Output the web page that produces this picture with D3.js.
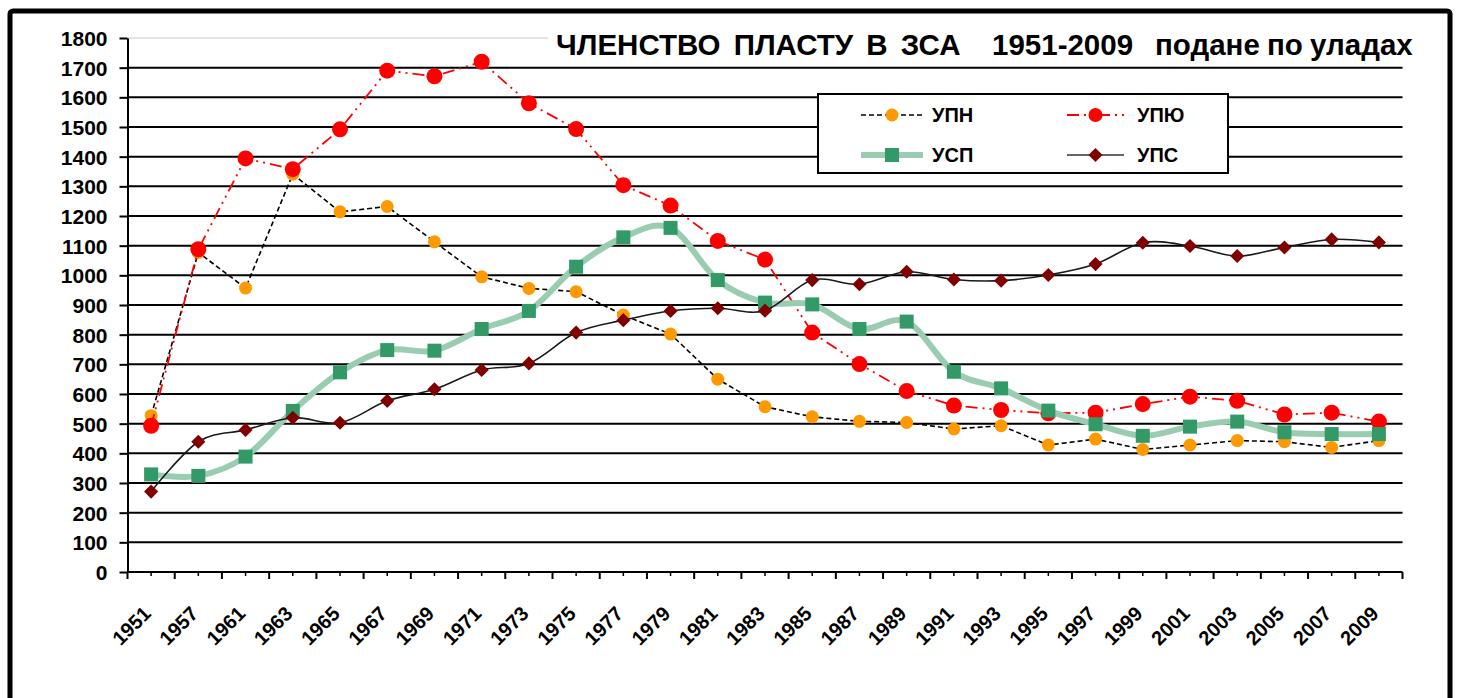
<!DOCTYPE html>
<html>
<head>
<meta charset="utf-8">
<script src="https://d3js.org/d3.v7.min.js"></script>
<style>
  body { margin: 0; background: #fff; font-family: "Liberation Sans", Arial, sans-serif; }
  svg text { font-weight: bold; fill: #000; }
</style>
</head>
<body>
<div id="chart"></div>
<script>
// chart data
const years = ["1951","1957","1961","1963","1965","1967","1969","1971","1973","1975","1977","1979","1981","1983",
  "1985","1987","1989","1991","1993","1995","1997","1999","2001","2003","2005","2007","2009"];
const upn  = [527,1077,957,1341,1214,1232,1113,995,956,945,866,802,650,557,523,508,504,482,493,428,448,413,428,443,439,420,443];
const upyu = [493,1088,1394,1358,1492,1690,1671,1720,1580,1493,1304,1235,1116,1053,807,701,610,561,546,535,537,566,591,577,531,537,507];
const usp  = [329,324,389,543,673,748,746,819,880,1029,1128,1160,984,908,902,819,844,675,619,544,498,459,490,507,471,465,465];
const ups  = [271,439,479,520,503,577,616,681,703,807,849,880,889,881,984,970,1012,986,982,1001,1038,1110,1099,1065,1094,1121,1111];
const yTicks = d3.range(0, 1801, 100);
const titleParts = ["ЧЛЕНСТВО ПЛАСТУ В ЗСА", "1951-2009", "подане по уладах"];

const W = 1458, H = 698;
const pLeft = 127.5, pRight = 1402.5, pTop = 38, pBottom = 572;

const svg = d3.select("#chart").append("svg")
  .attr("width", W).attr("height", H);

// outer frame
svg.append("rect")
  .attr("x", 10).attr("y", 11).attr("width", 1440).attr("height", 720)
  .attr("rx", 3)
  .attr("fill", "#fff").attr("stroke", "#000").attr("stroke-width", 5);

const x = d3.scaleBand().domain(years).range([pLeft, pRight]).padding(0);
const cx = d => x(d) + x.bandwidth() / 2;
const y = d3.scaleLinear().domain([0, 1800]).range([pBottom, pTop]);

// gridlines
svg.append("g").selectAll("line")
  .data(yTicks.filter(v => v > 0))
  .join("line")
  .attr("x1", pLeft).attr("x2", pRight)
  .attr("y1", d => y(d)).attr("y2", d => y(d))
  .attr("stroke", d => d === 1800 ? "#c8c8c8" : "#000")
  .attr("stroke-width", d => d === 1800 ? 1 : 2);

// y axis
const yAxis = svg.append("g")
  .attr("transform", `translate(${pLeft},0)`)
  .call(d3.axisLeft(y).tickValues(yTicks).tickFormat(d3.format("d"))
    .tickSize(8).tickSizeOuter(0).tickPadding(12));
yAxis.select(".domain").attr("stroke-width", 2);
yAxis.selectAll(".tick line").attr("stroke-width", 2);
yAxis.selectAll("text").attr("font-size", 21).attr("font-family", "Liberation Sans, Arial, sans-serif")
  .attr("dy", "0.36em");

// x axis: short ticks at category centres, longer at boundaries
const xAxis = svg.append("g").attr("transform", `translate(0,${pBottom})`);
xAxis.append("line").attr("x1", pLeft).attr("x2", pRight).attr("stroke", "#000").attr("stroke-width", 2);
xAxis.selectAll(".bt")
  .data(years.concat(["end"]))
  .join("line")
  .attr("x1", d => d === "end" ? pRight : x(d)).attr("x2", d => d === "end" ? pRight : x(d))
  .attr("y1", 0).attr("y2", 7).attr("stroke", "#000").attr("stroke-width", 2);
xAxis.selectAll(".ct")
  .data(years)
  .join("line")
  .attr("x1", cx).attr("x2", cx)
  .attr("y1", 0).attr("y2", 4).attr("stroke", "#000").attr("stroke-width", 1.5);
xAxis.selectAll("text")
  .data(years)
  .join("text")
  .attr("transform", d => `translate(${cx(d) + 1},${43}) rotate(-45)`)
  .attr("text-anchor", "end")
  .attr("font-size", 20)
  .text(d => d);

// title with white backing
const tg = svg.append("g");
tg.append("rect").attr("x", 548).attr("y", 24).attr("width", 864).attr("height", 40).attr("fill", "#fff");
const titleX = [556, 992, 1155];
const titleWS = [5, 0, -1];
tg.selectAll("text").data(titleParts).join("text")
  .attr("x", (d, i) => titleX[i]).attr("y", 55)
  .attr("font-size", 29.5)
  .attr("word-spacing", (d, i) => titleWS[i])
  .text(d => d);

const smooth = d3.curveCardinal.tension(0);

function drawLine(vals, opts) {
  const line = d3.line().x((d, i) => cx(years[i])).y(d => y(d));
  if (opts.curve) line.curve(opts.curve);
  svg.append("path")
    .datum(vals)
    .attr("d", line)
    .attr("fill", "none")
    .attr("stroke", opts.stroke)
    .attr("stroke-width", opts.width)
    .attr("stroke-dasharray", opts.dash || null);
}

// series order: УПН, УПЮ, УСП, УПС
drawLine(upn, { stroke: "#000", width: 1.6, dash: "5,3" });
svg.append("g").selectAll("circle").data(upn).join("circle")
  .attr("cx", (d, i) => cx(years[i])).attr("cy", d => y(d)).attr("r", 6.5).attr("fill", "#ff9900");

drawLine(upyu, { stroke: "#ff0000", width: 1.8, dash: "12,5,2,5,2,5" });
svg.append("g").selectAll("circle").data(upyu).join("circle")
  .attr("cx", (d, i) => cx(years[i])).attr("cy", d => y(d)).attr("r", 8).attr("fill", "#ff0000");

drawLine(usp, { stroke: "#99ccb0", width: 6, curve: smooth });
svg.append("g").selectAll("rect").data(usp).join("rect")
  .attr("x", (d, i) => cx(years[i]) - 7).attr("y", d => y(d) - 7)
  .attr("width", 14).attr("height", 14).attr("fill", "#339966");

drawLine(ups, { stroke: "#1a1a1a", width: 1.6, curve: smooth });
const diamond = d3.symbol().type(d3.symbolSquare).size(100);
svg.append("g").selectAll("path").data(ups).join("path")
  .attr("transform", (d, i) => `translate(${cx(years[i])},${y(d)}) rotate(45)`)
  .attr("d", diamond).attr("fill", "#800000");

// legend
const lg = svg.append("g");
lg.append("rect").attr("x", 818).attr("y", 94).attr("width", 410).attr("height", 79)
  .attr("fill", "#fff").attr("stroke", "#000").attr("stroke-width", 2);

const legendItems = [
  { name: "УПН", lx: 861, ly: 115, tx: 932 },
  { name: "УПЮ", lx: 1067, ly: 115, tx: 1137 },
  { name: "УСП", lx: 861, ly: 155, tx: 932 },
  { name: "УПС", lx: 1067, ly: 155, tx: 1137 }
];
legendItems.forEach((it, k) => {
  const len = k % 2 === 0 ? 62 : 57;
  const mx = it.lx + len / 2;
  const ln = lg.append("line").attr("x1", it.lx).attr("x2", it.lx + len).attr("y1", it.ly).attr("y2", it.ly);
  if (k === 0) {
    ln.attr("stroke", "#000").attr("stroke-width", 1.6).attr("stroke-dasharray", "5,3");
    lg.append("circle").attr("cx", mx).attr("cy", it.ly).attr("r", 6.5).attr("fill", "#ff9900");
  } else if (k === 1) {
    ln.attr("stroke", "#ff0000").attr("stroke-width", 1.8).attr("stroke-dasharray", "12,5,2,5,2,5");
    lg.append("circle").attr("cx", mx).attr("cy", it.ly).attr("r", 7).attr("fill", "#ff0000");
  } else if (k === 2) {
    ln.attr("stroke", "#99ccb0").attr("stroke-width", 6);
    lg.append("rect").attr("x", mx - 7).attr("y", it.ly - 7).attr("width", 14).attr("height", 14).attr("fill", "#339966");
  } else {
    ln.attr("stroke", "#333").attr("stroke-width", 1.6);
    lg.append("path").attr("transform", `translate(${mx},${it.ly}) rotate(45)`).attr("d", diamond).attr("fill", "#800000");
  }
  lg.append("text").attr("x", it.tx).attr("y", it.ly + 7).attr("font-size", 20).text(it.name);
});
</script>
</body>
</html>
